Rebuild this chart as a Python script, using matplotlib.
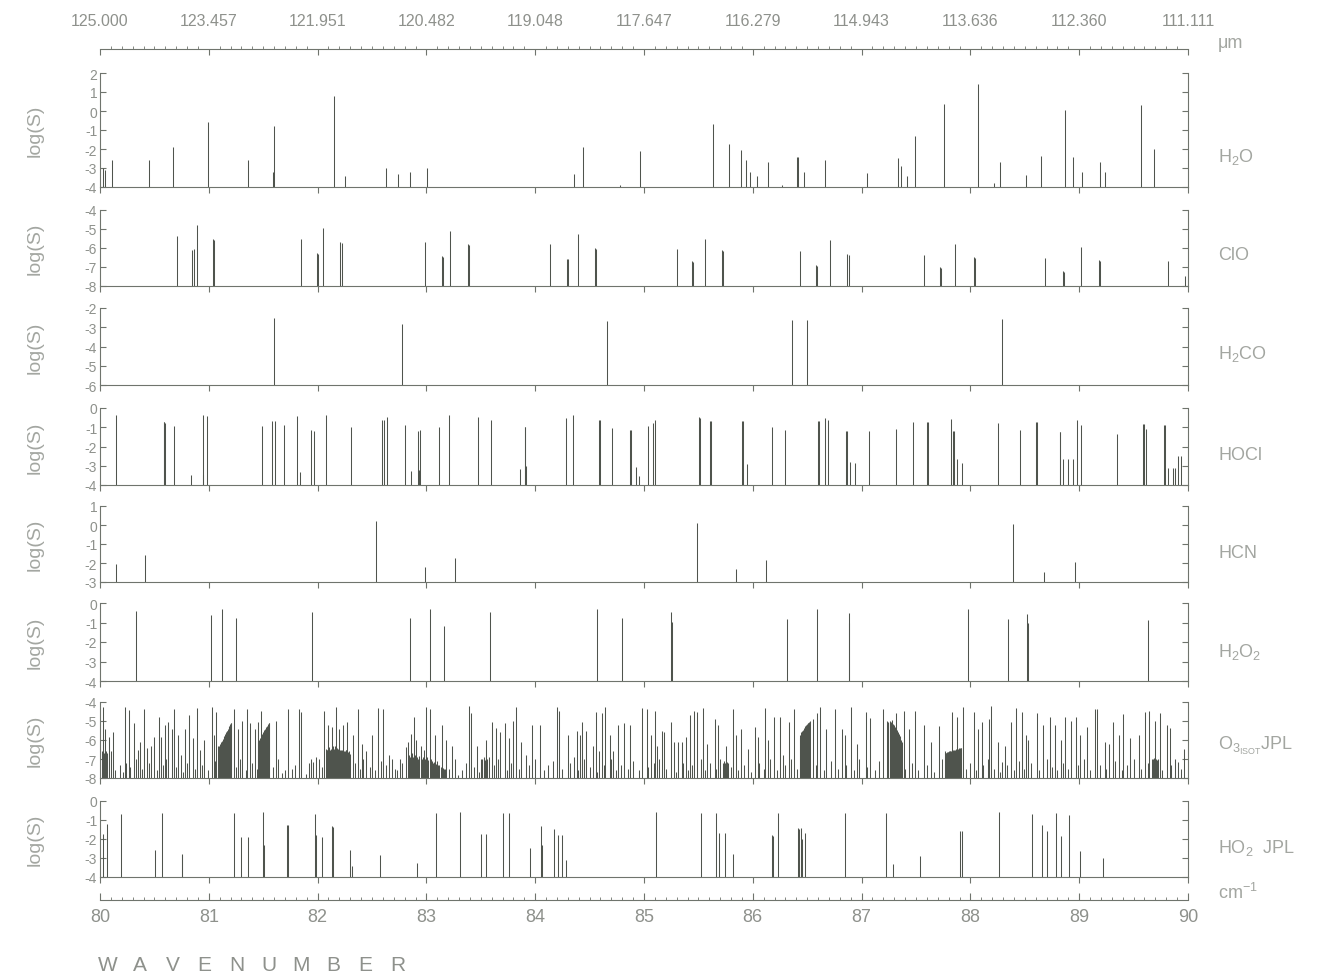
import numpy as np
import matplotlib
matplotlib.use("Agg")
import matplotlib.pyplot as plt
from matplotlib.ticker import MultipleLocator

plt.rcParams['font.family'] = ['Liberation Sans', 'DejaVu Sans']
plt.rcParams['mathtext.default'] = 'regular'
plt.rcParams['axes.unicode_minus'] = False

# ---- line lists: wavenumber (cm-1) and log(S) ----
h2o_wn = [80.03, 80.05, 80.11, 80.45, 80.67, 80.99, 81.36, 81.59, 81.60, 82.15, 82.25,
          82.63, 82.74, 82.85, 83.01, 84.36, 84.44, 84.78, 84.96,
          85.63, 85.78, 85.89, 85.94, 85.97, 86.04, 86.14, 86.27, 86.41, 86.42, 86.47,
          86.66, 87.05, 87.33, 87.36, 87.42, 87.49, 87.76, 88.07, 88.22, 88.27, 88.51,
          88.65, 88.87, 88.94, 89.03, 89.19, 89.24, 89.57, 89.69]
h2o_s = [-3.0, -3.1, -2.6, -2.6, -1.9, -0.6, -2.6, -3.2, -0.8, 0.8, -3.4,
         -3.0, -3.3, -3.2, -3.0, -3.3, -1.9, -3.9, -2.1,
         -0.66, -1.74, -2.05, -2.57, -3.2, -3.4, -2.66, -3.9, -2.43, -2.43, -3.2,
         -2.6, -3.25, -2.47, -2.9, -3.4, -1.3, 0.35, 1.43, -3.8, -2.66, -3.36,
         -2.35, 0.03, -2.43, -3.2, -2.7, -3.2, 0.3, -2.0]

clo_wn = [80.71, 80.85, 80.86, 80.89, 81.04, 81.05, 81.85, 81.99, 82.00, 82.05, 82.21, 82.22,
          82.99, 83.14, 83.15, 83.22, 83.38, 83.39, 84.14, 84.29, 84.30, 84.39, 84.55, 84.56,
          85.30, 85.44, 85.45, 85.56, 85.72, 85.73, 86.43, 86.58, 86.59, 86.71, 86.87, 86.88,
          87.57, 87.72, 87.73, 87.86, 88.03, 88.04, 88.69, 88.85, 88.86, 89.02, 89.18, 89.19,
          89.82, 89.97]
clo_s = [-5.37, -6.1, -6.05, -4.8, -5.55, -5.6, -5.55, -6.25, -6.3, -4.93, -5.68, -5.72,
         -5.68, -6.4, -6.45, -5.1, -5.8, -5.85, -5.8, -6.56, -6.6, -5.28, -6.0, -6.05,
         -6.05, -6.68, -6.72, -5.54, -6.12, -6.16, -6.17, -6.9, -6.95, -5.6, -6.3, -6.35,
         -6.36, -7.0, -7.05, -5.78, -6.48, -6.52, -6.55, -7.2, -7.25, -5.95, -6.65, -6.7,
         -6.7, -7.45]

h2co_wn = [81.60, 82.78, 84.66, 86.36, 86.50, 88.29]
h2co_s = [-2.53, -2.84, -2.7, -2.62, -2.62, -2.55]

hocl_wn = [80.15, 80.585, 80.59, 80.60, 80.68, 80.84, 80.945, 80.95, 80.98,
           81.49, 81.58, 81.61, 81.69, 81.81, 81.84, 81.94, 81.97, 82.08, 82.31,
           82.59, 82.61, 82.64, 82.80, 82.86, 82.92, 82.93, 82.94, 83.12, 83.21,
           83.47, 83.59, 83.86, 83.905, 83.91, 83.915, 84.28, 84.35, 84.59, 84.598,
           84.71, 84.875, 84.88, 84.93, 84.95, 85.04, 85.08,
           85.10, 85.51, 85.518, 85.61, 85.618, 85.90, 85.908, 85.95, 86.18, 86.30,
           86.60, 86.608, 86.66, 86.69, 86.86, 86.868, 86.89, 86.94, 87.07, 87.32,
           87.47, 87.60, 87.608, 87.82, 87.84, 87.848, 87.88, 87.92, 88.25, 88.46,
           88.60, 88.608, 88.82, 88.828, 88.85, 88.90, 88.94, 88.98, 89.02, 89.35,
           89.59, 89.598, 89.61, 89.78, 89.788, 89.82, 89.86, 89.88, 89.91, 89.94]
hocl_s = [-0.38, -0.73, -0.75, -0.78, -0.94, -3.48, -3.5, -0.35, -0.42,
          -0.94, -0.68, -0.68, -0.87, -0.42, -3.3, -1.15, -1.18, -0.35, -0.99,
          -0.64, -0.64, -0.47, -0.9, -3.25, -1.17, -3.2, -1.15, -0.99, -0.38,
          -0.47, -0.61, -3.17, -0.99, -1.0, -3.0, -0.52, -0.38, -0.61, -0.63,
          -1.04, -1.13, -1.15, -3.08, -3.55, -0.94, -0.77,
          -0.6, -0.48, -0.5, -0.66, -0.68, -0.66, -0.68, -2.93, -0.98, -1.12,
          -0.66, -0.68, -0.52, -0.6, -1.2, -1.22, -2.8, -2.84, -1.2, -1.09,
          -0.72, -0.72, -0.74, -0.55, -1.2, -1.22, -2.67, -2.88, -0.78, -1.12,
          -0.72, -0.74, -1.24, -1.26, -2.67, -2.67, -2.64, -0.6, -0.86, -1.34,
          -0.81, -0.83, -1.07, -0.86, -0.88, -3.1, -3.1, -3.1, -2.5, -2.5]

hcn_wn = [80.15, 80.41, 82.54, 82.99, 83.26, 85.49, 85.85, 86.12, 88.39, 88.68, 88.96]
hcn_s = [-2.07, -1.58, 0.21, -2.19, -1.72, 0.12, -2.33, -1.84, 0.04, -2.45, -1.95]

h2o2_wn = [80.33, 81.02, 81.12, 81.25, 81.95, 82.85, 83.03, 83.16, 83.58, 84.57, 84.80,
           85.25, 85.258, 86.31, 86.59, 86.88, 86.888, 87.98, 88.35, 88.52, 88.528, 89.63]
h2o2_s = [-0.43, -0.64, -0.33, -0.78, -0.47, -0.78, -0.33, -1.16, -0.47, -0.29, -0.78,
          -0.47, -0.95, -0.82, -0.3, -0.53, -1.0, -0.3, -0.82, -0.58, -1.0, -0.88]

# O3 isotopes: strong and medium lines
o3_wn = [80.023, 80.050, 80.058, 80.081, 80.097, 80.120, 80.228, 80.243, 80.263, 80.313,
         80.351, 80.371, 80.409, 80.429, 80.467, 80.494, 80.541, 80.564, 80.598, 80.629,
         80.660, 80.680, 80.714, 80.745, 80.784, 80.815, 80.853, 80.892, 80.919, 80.958,
         81.027, 81.046, 81.066, 81.085, 81.100, 81.116, 81.131, 81.147, 81.162, 81.178,
         81.193, 81.205, 81.232, 81.266, 81.305, 81.355, 81.382, 81.421, 81.448, 81.463,
         81.479, 81.498, 81.517, 81.537, 81.556, 81.614, 81.672, 81.730, 81.768, 81.826,
         81.849, 81.942, 81.961, 81.988, 82.058, 82.077, 82.089, 82.097, 82.120, 82.135,
         82.143, 82.166, 82.174, 82.193, 82.205, 82.232, 82.243, 82.259, 82.270, 82.290,
         82.328, 82.367, 82.405, 82.444, 82.502, 82.552, 82.598, 82.656, 82.714, 82.753,
         82.811, 82.830, 82.861, 82.888, 82.907, 82.946, 82.977, 82.996, 83.004, 83.031,
         83.042, 83.081, 83.100, 83.120, 83.139, 83.158, 83.178, 83.236, 83.293, 83.390,
         83.409, 83.467, 83.506, 83.525, 83.544, 83.571, 83.602, 83.641, 83.680, 83.718,
         83.757, 83.795, 83.826, 83.873, 83.911, 83.969, 84.046, 84.201, 84.220, 84.297,
         84.355, 84.382, 84.413, 84.432, 84.471, 84.529, 84.560, 84.587, 84.618, 84.645,
         84.683, 84.714, 84.761, 84.819, 84.869, 84.985,
         85.024, 85.064, 85.104, 85.124, 85.163, 85.183, 85.251, 85.275, 85.315, 85.347,
         85.382, 85.422, 85.462, 85.490, 85.542, 85.582, 85.649, 85.681, 85.733, 85.753,
         85.773, 85.821, 85.849, 85.888, 85.952, 86.020, 86.048, 86.112, 86.139, 86.199,
         86.247, 86.279, 86.331, 86.379, 86.430, 86.446, 86.462, 86.478, 86.494, 86.510,
         86.526, 86.550, 86.590, 86.618, 86.677, 86.757, 86.817, 86.845, 86.904, 86.956,
         87.036, 87.076, 87.195, 87.235, 87.259, 87.283, 87.307, 87.315, 87.335, 87.363,
         87.394, 87.434, 87.494, 87.574, 87.634, 87.713, 87.765, 87.773, 87.793, 87.817,
         87.833, 87.841, 87.865, 87.880, 87.888, 87.912, 87.932, 88.032, 88.072, 88.104,
         88.171, 88.191, 88.251, 88.291, 88.319, 88.371, 88.422, 88.470, 88.510, 88.530,
         88.610, 88.669, 88.729, 88.781, 88.829, 88.869, 88.928, 88.968, 89.008, 89.068,
         89.147, 89.167, 89.235, 89.275, 89.307, 89.367, 89.406, 89.466, 89.546, 89.606,
         89.645, 89.673, 89.697, 89.721, 89.745, 89.805, 89.833, 89.904, 89.964]
o3_s = [-4.26, -5.4, -6.6, -5.85, -6.6, -5.6, -4.26, -7.2, -4.4, -5.1,
        -6.5, -6.1, -4.35, -6.4, -6.3, -5.85, -4.8, -5.85, -5.2, -5.05,
        -5.4, -4.35, -5.75, -6.8, -5.4, -4.7, -5.9, -4.3, -6.5, -6.0,
        -4.26, -5.75, -4.5, -6.3, -6.2, -6.1, -5.95, -5.8, -5.6, -5.4,
        -5.2, -5.1, -4.35, -5.4, -5.0, -4.35, -5.1, -5.4, -5.05, -6.0,
        -4.45, -5.6, -5.4, -5.25, -5.1, -5.0, -7.75, -4.35, -7.5, -4.35,
        -4.55, -7.0, -7.15, -6.9, -4.45, -6.45, -6.5, -5.2, -6.45, -5.3,
        -6.3, -4.26, -6.4, -5.4, -6.5, -5.2, -6.6, -6.5, -5.05, -6.6,
        -5.75, -4.35, -6.2, -6.6, -5.75, -4.3, -4.35, -6.8, -7.5, -7.0,
        -6.35, -6.1, -5.7, -4.8, -6.0, -6.3, -6.5, -4.26, -6.9, -4.35,
        -7.0, -5.75, -7.1, -7.3, -5.2, -7.5, -6.0, -6.3, -7.85, -4.2,
        -4.6, -6.3, -7.0, -7.0, -6.0, -6.9, -5.05, -5.35, -5.6, -5.1,
        -5.9, -5.0, -4.26, -6.1, -6.8, -5.2, -5.2, -4.26, -4.45, -5.75,
        -6.9, -5.5, -5.75, -5.05, -5.5, -6.3, -4.5, -6.6, -4.6, -4.26,
        -5.75, -6.6, -5.2, -5.1, -5.2, -4.3,
        -4.35, -5.75, -4.45, -6.3, -5.5, -5.6, -5.05, -6.1, -6.1, -6.1,
        -5.85, -4.7, -4.45, -4.5, -4.3, -6.2, -4.9, -5.2, -7.2, -6.3,
        -7.2, -4.35, -5.75, -5.4, -6.45, -5.3, -5.85, -4.3, -6.0, -4.8,
        -4.8, -6.8, -5.05, -4.35, -5.9, -5.6, -5.45, -5.3, -5.2, -5.1,
        -5.0, -4.9, -4.6, -4.26, -5.4, -4.35, -5.4, -5.75, -4.26, -6.2,
        -4.55, -4.85, -4.35, -5.0, -5.1, -4.95, -5.3, -4.6, -5.6, -6.0,
        -4.45, -5.4, -4.45, -5.2, -6.1, -5.25, -6.6, -6.7, -6.65, -6.6,
        -4.5, -6.55, -6.5, -4.8, -6.45, -6.4, -4.26, -4.5, -5.4, -5.05,
        -4.9, -4.2, -6.1, -7.15, -6.3, -5.05, -4.3, -4.5, -5.75, -6.0,
        -4.6, -5.2, -4.8, -5.2, -6.0, -4.8, -5.0, -4.8, -5.75, -5.3,
        -4.35, -4.35, -6.1, -6.2, -5.05, -5.75, -4.65, -5.9, -5.75, -4.5,
        -4.45, -7.0, -5.0, -7.0, -4.6, -5.2, -5.35, -7.15, -6.45]

# O3 band-head clusters (the dark filled patches)
o3_band_wn = [80.020, 80.030, 80.038, 80.045, 80.062,
              81.090, 81.096, 81.104, 81.108, 81.112, 81.120, 81.124, 81.128, 81.136, 81.140,
              81.144, 81.152, 81.156, 81.166, 81.170, 81.174, 81.182, 81.186, 81.190, 81.198,
              81.202,
              81.455, 81.468, 81.472, 81.485, 81.490, 81.505, 81.510, 81.522, 81.527, 81.542,
              81.547, 81.552,
              82.082, 82.100, 82.108, 82.115, 82.128, 82.150, 82.158, 82.182, 82.188, 82.212,
              82.220, 82.250, 82.265, 82.278, 82.285, 82.300,
              82.840, 82.850, 82.870, 82.880, 82.897, 82.915, 82.925, 82.935, 82.955, 82.965,
              82.985, 83.015, 83.050, 83.060, 83.070, 83.090, 83.110, 83.130, 83.150, 83.168,
              83.515, 83.530, 83.535, 83.550, 83.560,
              85.728, 85.738, 85.743, 85.760, 85.765,
              86.435, 86.440, 86.452, 86.457, 86.468, 86.472, 86.484, 86.488, 86.500, 86.505,
              86.515, 86.520,
              87.240, 87.245, 87.265, 87.270, 87.290, 87.295, 87.320, 87.325, 87.340, 87.350,
              87.370,
              87.770, 87.778, 87.785, 87.798, 87.805, 87.810, 87.822, 87.828, 87.848, 87.855,
              87.870, 87.875, 87.895, 87.900, 87.918,
              89.680, 89.690, 89.705, 89.712]
o3_band_s = [-6.6, -6.5, -6.7, -6.6, -6.7,
             -6.4, -6.3, -6.25, -6.2, -6.15, -6.1, -6.05, -6.0, -5.9, -5.85,
             -5.8, -5.7, -5.65, -5.55, -5.5, -5.45, -5.35, -5.3, -5.25, -5.15,
             -5.1,
             -6.1, -5.95, -5.9, -5.75, -5.7, -5.5, -5.45, -5.35, -5.3, -5.2,
             -5.15, -5.1,
             -6.5, -6.4, -6.35, -6.5, -6.4, -6.45, -6.3, -6.5, -6.45, -6.55,
             -6.5, -6.6, -6.55, -6.65, -6.7, -6.75,
             -6.8, -6.9, -6.7, -6.9, -6.8, -6.9, -7.0, -6.85, -7.0, -6.9,
             -7.0, -7.05, -7.1, -7.2, -7.15, -7.25, -7.3, -7.4, -7.45, -7.55,
             -7.0, -6.9, -7.05, -6.95, -7.0,
             -7.2, -7.1, -7.2, -7.15, -7.25,
             -5.75, -5.7, -5.55, -5.5, -5.4, -5.35, -5.25, -5.22, -5.15, -5.12,
             -5.08, -5.05,
             -5.05, -5.1, -5.0, -5.05, -5.15, -5.2, -5.4, -5.45, -5.7, -5.8,
             -6.1,
             -6.7, -6.68, -6.65, -6.62, -6.6, -6.6, -6.58, -6.55, -6.52, -6.5,
             -6.48, -6.48, -6.42, -6.42, -6.4,
             -7.0, -6.95, -7.0, -7.05]

# O3 weak lines near the baseline
o3_weak_wn = [80.14, 80.18, 80.21, 80.28, 80.33, 80.39, 80.45, 80.52, 80.58, 80.61,
              80.70, 80.76, 80.80, 80.87, 80.94, 80.99, 81.06, 81.25, 81.29, 81.34,
              81.40, 81.44, 81.59, 81.64, 81.70, 81.79, 81.89, 81.92, 82.01, 82.04,
              82.34, 82.39, 82.42, 82.48, 82.53, 82.58, 82.63, 82.68, 82.73, 82.78,
              83.21, 83.26, 83.33, 83.36, 83.44, 83.48, 83.62, 83.66, 83.74, 83.78,
              83.85, 83.94, 84.00, 84.08, 84.12, 84.16, 84.25, 84.32, 84.39, 84.45,
              84.50, 84.57, 84.63, 84.70, 84.74, 84.79, 84.85, 84.90, 84.95, 85.04,
              85.09, 85.14, 85.20, 85.29, 85.36, 85.40, 85.44, 85.52, 85.56, 85.61,
              85.66, 85.70, 85.80, 85.86, 85.92, 85.98, 86.06, 86.10, 86.16, 86.22,
              86.30, 86.35, 86.41, 86.58, 86.65, 86.72, 86.78, 86.86, 86.93, 86.98,
              87.05, 87.12, 87.16, 87.40, 87.46, 87.52, 87.60, 87.67, 87.74, 87.96,
              88.00, 88.05, 88.12, 88.16, 88.22, 88.27, 88.34, 88.40, 88.45, 88.49,
              88.56, 88.63, 88.70, 88.75, 88.80, 88.85, 88.90, 88.99, 89.04, 89.10,
              89.19, 89.25, 89.33, 89.39, 89.44, 89.50, 89.57, 89.63, 89.76, 89.84,
              89.88, 89.94]
o3_weak_s = [-7.6, -7.3, -7.7, -7.4, -7.0, -7.5, -7.2, -7.6, -7.3, -7.0,
             -7.4, -7.7, -7.2, -7.5, -7.3, -7.6, -7.1, -7.4, -7.0, -7.6,
             -7.2, -7.5, -7.4, -7.0, -7.6, -7.3, -7.8, -7.2, -7.0, -7.4,
             -7.2, -7.5, -7.0, -7.4, -7.6, -7.1, -7.3, -7.0, -7.6, -7.2,
             -7.5, -7.0, -7.6, -7.2, -7.4, -7.7, -7.3, -7.0, -7.6, -7.2,
             -7.5, -7.3, -7.0, -7.6, -7.3, -7.1, -7.5, -7.2, -7.6, -7.0,
             -7.4, -7.7, -7.3, -7.0, -7.6, -7.3, -7.5, -7.1, -7.6, -7.4,
             -7.2, -7.0, -7.5, -7.7, -7.2, -7.6, -7.3, -7.0, -7.6, -7.2,
             -7.5, -7.0, -7.4, -7.6, -7.3, -7.7, -7.2, -7.5, -7.0, -7.6,
             -7.3, -7.0, -7.5, -7.3, -7.6, -7.1, -7.5, -7.3, -7.6, -7.0,
             -7.4, -7.6, -7.1, -7.5, -7.2, -7.6, -7.3, -7.7, -7.0, -7.5,
             -7.2, -7.6, -7.3, -7.0, -7.5, -7.7, -7.3, -7.6, -7.1, -7.5,
             -7.2, -7.6, -7.0, -7.4, -7.6, -7.2, -7.5, -7.3, -7.0, -7.6,
             -7.3, -7.5, -7.1, -7.6, -7.3, -7.0, -7.5, -7.2, -7.6, -7.3,
             -7.0, -7.5]

ho2_wn = [80.03, 80.06, 80.19, 80.51, 80.57, 80.75, 80.758, 81.23, 81.30, 81.36, 81.50,
          81.508, 81.72, 81.728, 81.98, 81.988, 82.04, 82.13, 82.138, 82.30, 82.32, 82.57,
          82.91, 83.09, 83.31, 83.50, 83.55, 83.70, 83.76, 83.95, 84.05, 84.058, 84.17,
          84.21, 84.25, 84.28,
          85.11, 85.52, 85.66, 85.69, 85.74, 85.82, 86.18, 86.188, 86.23, 86.42, 86.428,
          86.44, 86.448, 86.48, 86.85, 87.22, 87.29, 87.54, 87.90, 87.92, 88.26, 88.57,
          88.66, 88.70, 88.79, 88.83, 88.91, 89.01, 89.22]
ho2_s = [-1.74, -1.22, -0.66, -2.57, -0.61, -2.78, -2.85, -0.61, -1.88, -1.91, -0.57,
         -2.3, -1.25, -1.28, -0.66, -1.8, -1.91, -1.34, -1.38, -2.6, -3.4, -2.83,
         -3.27, -0.61, -0.56, -1.74, -1.74, -0.61, -0.61, -2.49, -1.34, -2.3, -1.48,
         -1.77, -1.77, -3.1,
         -0.56, -0.61, -0.61, -1.67, -1.67, -2.81, -1.81, -1.85, -0.61, -1.44, -1.46,
         -1.44, -2.0, -1.67, -0.61, -0.61, -3.3, -2.9, -1.58, -1.58, -0.56, -0.67,
         -1.26, -1.58, -0.61, -1.84, -0.74, -2.63, -3.02]

o3_all_wn = o3_wn + o3_band_wn + o3_weak_wn
o3_all_s = o3_s + o3_band_s + o3_weak_s

panel_names = [r"H$_2$O", "ClO", r"H$_2$CO", "HOCl", "HCN", r"H$_2$O$_2$",
               r"O$_{3_{ISOT}}$JPL", r"HO$_2$  JPL"]
panel_wn = [h2o_wn, clo_wn, h2co_wn, hocl_wn, hcn_wn, h2o2_wn, o3_all_wn, ho2_wn]
panel_s = [h2o_s, clo_s, h2co_s, hocl_s, hcn_s, h2o2_s, o3_all_s, ho2_s]
panel_ylim = [(-4, 2), (-8, -4), (-6, -2), (-4, 0), (-3, 1), (-4, 0), (-8, -4), (-4, 0)]

wn_ticks = list(range(80, 91))
um_labels = ["125.000", "123.457", "121.951", "120.482", "119.048", "117.647",
             "116.279", "114.943", "113.636", "112.360", "111.111"]

# ---- layout (pixels) ----
W, H = 1325, 978
LINE = '#4f544d'
SPINE = '#6f746d'
TXT = '#8e918c'
LBL = '#a3a6a1'

panel_px = [(74, 188), (211, 287), (309, 386), (409, 486),
            (507, 583), (604, 682), (703, 779), (802, 878)]
name_y = [157, 256, 354, 455, 553, 652, 746, 848]

fig = plt.figure(figsize=(W / 100, H / 100), dpi=100)
x0, xw = 100 / W, 1088 / W

for i, (top, bot) in enumerate(panel_px):
    ax = fig.add_axes([x0, 1 - bot / H, xw, (bot - top) / H])
    lo, hi = panel_ylim[i]
    ax.vlines(panel_wn[i], lo, panel_s[i], color=LINE, lw=0.75)
    ax.set_xlim(80, 90)
    ax.set_ylim(lo, hi)
    ax.spines['top'].set_visible(False)
    for sp in ['left', 'right', 'bottom']:
        ax.spines[sp].set_color(SPINE)
        ax.spines[sp].set_linewidth(0.8)
    ax.set_yticks(range(lo, hi + 1))
    ax.tick_params(axis='y', direction='in', length=4, left=True, right=True,
                   color=SPINE, labelcolor=TXT, labelsize=10, pad=2)
    ax.set_xticks(wn_ticks)
    ax.tick_params(axis='x', direction='out', length=4, color=SPINE, labelbottom=False)
    ax.set_ylabel("log(S)", color=LBL, fontsize=14)
    ax.yaxis.set_label_coords(-0.052, 0.5)
    fig.text(1218 / W, 1 - name_y[i] / H, panel_names[i], color=LBL, fontsize=13,
             va='center', ha='left')

# top micron scale
axt = fig.add_axes([x0, 1 - 50 / H, xw, 0.0001])
for sp in ['left', 'right', 'top']:
    axt.spines[sp].set_visible(False)
axt.spines['bottom'].set_color(SPINE)
axt.spines['bottom'].set_linewidth(0.8)
axt.set_xlim(80, 90)
axt.set_yticks([])
axt.set_xticks(wn_ticks)
axt.set_xticklabels(um_labels)
axt.xaxis.set_minor_locator(MultipleLocator(0.1))
axt.tick_params(which='major', direction='out', length=4, color=SPINE,
                labelbottom=False, labeltop=True, labelcolor=TXT, labelsize=11.5, pad=11)
axt.tick_params(which='minor', direction='in', length=2.5, color=SPINE)
fig.text(1218 / W, 1 - 43 / H, "μm", color=LBL, fontsize=13, va='center', ha='left')

# bottom wavenumber scale
axb = fig.add_axes([x0, 1 - 901 / H, xw, 0.0001])
for sp in ['left', 'right', 'top']:
    axb.spines[sp].set_visible(False)
axb.spines['bottom'].set_color(SPINE)
axb.spines['bottom'].set_linewidth(0.8)
axb.set_xlim(80, 90)
axb.set_yticks([])
axb.set_xticks(wn_ticks)
axb.xaxis.set_minor_locator(MultipleLocator(0.1))
axb.tick_params(which='major', direction='in', length=5, color=SPINE,
                labelcolor=TXT, labelsize=13, pad=6)
axb.tick_params(which='minor', direction='in', length=2.5, color=SPINE)
fig.text(1218 / W, 1 - 893 / H, r"cm$^{-1}$", color=LBL, fontsize=13, va='center', ha='left')

for k, ch in enumerate("WAVENUMBER"):
    fig.text((108 + 32.2 * k) / W, 1 - 966 / H, ch, color=TXT, fontsize=15,
             ha='center', va='center')

fig.savefig("out.png", dpi=100, facecolor='white')
